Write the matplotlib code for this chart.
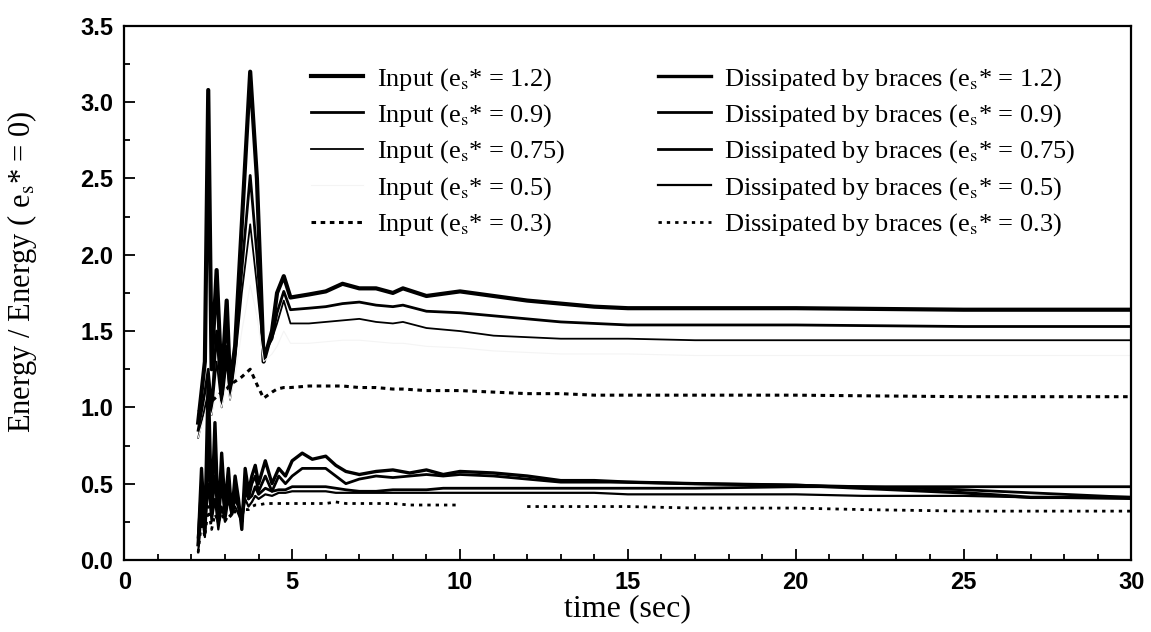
import numpy as np
import matplotlib
matplotlib.use("Agg")
import matplotlib.pyplot as plt
from matplotlib.ticker import MultipleLocator, FormatStrFormatter

nan = np.nan

# time grids (sec)
T_INPUT = [2.0, 2.2, 2.4, 2.5, 2.6, 2.75, 2.9, 3.05, 3.15, 3.3, 3.5, 3.75, 3.95,
           4.15, 4.4, 4.55, 4.75, 4.95, 5.5, 6.0, 6.5, 7.0, 7.5, 8.0, 8.3, 9.0,
           10.0, 11.0, 12.0, 13.0, 14.0, 15.0, 17.0, 20.0, 25.0, 30.0]
T_DISS = [2.2, 2.3, 2.4, 2.5, 2.6, 2.7, 2.8, 2.9, 3.0, 3.1, 3.2, 3.3, 3.4, 3.5,
          3.6, 3.7, 3.8, 3.9, 4.0, 4.2, 4.4, 4.6, 4.8, 5.0, 5.3, 5.6, 6.0, 6.3,
          6.6, 7.0, 7.5, 8.0, 8.5, 9.0, 9.5, 10.0, 11.0, 12.0, 13.0, 14.0, 15.0,
          17.0, 20.0, 22.0, 25.0, 27.0, 30.0]

# input energy ratio
input_12 = [nan, 0.9, 1.3, 3.08, 1.25, 1.9, 1.15, 1.7, 1.15, 1.4, 2.2, 3.2, 2.5,
            1.3, 1.5, 1.75, 1.86, 1.72, 1.74, 1.76, 1.81, 1.78, 1.78, 1.75, 1.78,
            1.73, 1.76, 1.73, 1.70, 1.68, 1.66, 1.65, 1.65, 1.65, 1.64, 1.64]
input_09 = [nan, 0.85, 1.1, 1.25, 1.0, 1.5, 1.05, 1.4, 1.1, 1.35, 1.9, 2.52, 2.0,
            1.35, 1.45, 1.62, 1.76, 1.64, 1.65, 1.66, 1.68, 1.69, 1.67, 1.66, 1.67,
            1.63, 1.62, 1.60, 1.58, 1.56, 1.55, 1.54, 1.54, 1.54, 1.53, 1.53]
input_075 = [nan, 0.8, 1.0, 1.1, 0.95, 1.3, 1.0, 1.3, 1.05, 1.3, 1.75, 2.2, 1.8,
             1.35, 1.45, 1.55, 1.7, 1.55, 1.55, 1.56, 1.57, 1.58, 1.56, 1.55, 1.56,
             1.52, 1.50, 1.47, 1.46, 1.45, 1.45, 1.45, 1.44, 1.44, 1.44, 1.44]
input_05 = [nan, 0.8, 0.95, 1.0, 0.95, 1.1, 1.0, 1.15, 1.05, 1.2, 1.5, 1.8, 1.6,
            1.3, 1.35, 1.4, 1.5, 1.42, 1.42, 1.43, 1.44, 1.44, 1.43, 1.42, 1.42,
            1.40, 1.39, 1.37, 1.36, 1.35, 1.35, 1.35, 1.34, 1.34, 1.34, 1.34]
input_03 = [nan, 0.97, 1.0, 1.02, 1.04, 1.07, 1.1, 1.12, 1.15, 1.17, 1.2, 1.25, 1.15,
            1.06, 1.1, 1.12, 1.13, 1.13, 1.14, 1.14, 1.14, 1.13, 1.13, 1.12, 1.12,
            1.11, 1.11, 1.10, 1.09, 1.09, 1.08, 1.08, 1.08, 1.08, 1.07, 1.07]

# energy dissipated by braces ratio
diss_12 = [0.1, 0.6, 0.2, 1.2, 0.3, 0.9, 0.25, 0.7, 0.35, 0.6, 0.3, 0.55, 0.4, 0.2,
           0.6, 0.45, 0.55, 0.62, 0.5, 0.65, 0.5, 0.6, 0.55, 0.65, 0.7, 0.66, 0.68,
           0.62, 0.58, 0.56, 0.58, 0.59, 0.57, 0.59, 0.56, 0.58, 0.57, 0.55, 0.52,
           0.52, 0.51, 0.50, 0.49, 0.47, 0.44, 0.41, 0.41]
diss_09 = [0.15, 0.5, 0.25, 0.9, 0.35, 0.75, 0.3, 0.55, 0.3, 0.5, 0.35, 0.45, 0.35,
           0.25, 0.5, 0.4, 0.5, 0.55, 0.45, 0.55, 0.45, 0.55, 0.5, 0.55, 0.6, 0.6,
           0.6, 0.55, 0.5, 0.53, 0.55, 0.54, 0.55, 0.56, 0.55, 0.56, 0.55, 0.53,
           0.51, 0.51, 0.51, 0.50, 0.49, 0.48, 0.46, 0.44, 0.41]
diss_075 = [0.1, 0.4, 0.2, 0.7, 0.3, 0.55, 0.25, 0.5, 0.3, 0.45, 0.3, 0.4, 0.35,
            0.25, 0.45, 0.4, 0.42, 0.48, 0.43, 0.47, 0.45, 0.46, 0.46, 0.48, 0.48,
            0.48, 0.48, 0.47, 0.46, 0.45, 0.45, 0.46, 0.46, 0.46, 0.47, 0.47, 0.47,
            0.47, 0.47, 0.47, 0.47, 0.47, 0.48, 0.48, 0.48, 0.48, 0.48]
diss_05 = [0.05, 0.3, 0.15, 0.5, 0.25, 0.4, 0.2, 0.35, 0.25, 0.4, 0.3, 0.35, 0.3,
           0.25, 0.4, 0.35, 0.38, 0.42, 0.4, 0.43, 0.42, 0.44, 0.44, 0.45, 0.45,
           0.45, 0.45, 0.44, 0.44, 0.44, 0.44, 0.44, 0.44, 0.44, 0.44, 0.44, 0.44,
           0.44, 0.44, 0.44, 0.43, 0.43, 0.43, 0.42, 0.42, 0.41, 0.40]
diss_03 = [0.05, 0.25, 0.15, 0.35, 0.2, 0.3, 0.25, 0.3, 0.25, 0.3, 0.28, 0.32, 0.3,
           0.3, 0.33, 0.33, 0.35, 0.36, 0.36, 0.37, 0.37, 0.37, 0.37, 0.37, 0.37,
           0.37, 0.37, 0.38, 0.37, 0.37, 0.37, 0.37, 0.36, 0.36, 0.36, 0.36, nan,
           0.35, 0.35, 0.35, 0.35, 0.34, 0.34, 0.33, 0.32, 0.32, 0.32]

ES_LABELS = ["1.2", "0.9", "0.75", "0.5", "0.3"]

plt.rcParams.update({
    "font.family": "serif",
    "font.serif": ["Liberation Serif", "DejaVu Serif"],
    "mathtext.fontset": "stix",
})

fig = plt.figure(figsize=(11.51, 6.32), dpi=100)
ax = fig.add_axes([0.108, 0.114, 0.875, 0.845])

in_styles = [
    dict(color="black", lw=3.0, ls="-"),
    dict(color="black", lw=2.0, ls="-"),
    dict(color="black", lw=1.3, ls="-"),
    dict(color="#f4f4f4", lw=0.8, ls="-"),
    dict(color="black", lw=2.2, ls=(0, (1.5, 1.5))),
]
diss_styles = [
    dict(color="black", lw=2.4, ls="-"),
    dict(color="black", lw=2.0, ls="-"),
    dict(color="black", lw=2.0, ls="-"),
    dict(color="black", lw=1.6, ls="-"),
    dict(color="black", lw=2.0, ls=(0, (1.2, 1.8))),
]

in_handles = []
for vals, st, es in zip([input_12, input_09, input_075, input_05, input_03], in_styles, ES_LABELS):
    h, = ax.plot(T_INPUT, vals, label=f"Input (e$_\\mathrm{{s}}$* = {es})", **st)
    in_handles.append(h)

diss_handles = []
for vals, st, es in zip([diss_12, diss_09, diss_075, diss_05, diss_03], diss_styles, ES_LABELS):
    h, = ax.plot(T_DISS, vals, label=f"Dissipated by braces (e$_\\mathrm{{s}}$* = {es})", **st)
    diss_handles.append(h)

ax.set_xlim(0, 30)
ax.set_ylim(0, 3.5)
ax.xaxis.set_major_locator(MultipleLocator(5))
ax.xaxis.set_minor_locator(MultipleLocator(1))
ax.yaxis.set_major_locator(MultipleLocator(0.5))
ax.yaxis.set_minor_locator(MultipleLocator(0.25))
ax.yaxis.set_major_formatter(FormatStrFormatter("%.1f"))
ax.tick_params(which="both", direction="in", top=False, right=False, width=1.3)
ax.tick_params(which="major", length=8, pad=8)
ax.tick_params(which="minor", length=4)
for lab in ax.get_xticklabels() + ax.get_yticklabels():
    lab.set_family("Liberation Sans")
    lab.set_fontsize(17)
    lab.set_fontweight("bold")
for sp in ax.spines.values():
    sp.set_linewidth(1.6)

ax.set_xlabel("time (sec)", fontsize=23, labelpad=0)
ax.set_ylabel("Energy / Energy ( e$_\\mathrm{s}$* = 0)", fontsize=22, labelpad=12)
ax.yaxis.set_label_coords(-0.085, 0.54)

leg1 = ax.legend(handles=in_handles, loc="upper left", bbox_to_anchor=(0.185, 0.925),
                 frameon=False, fontsize=19, handlelength=2.0, handletextpad=0.5,
                 labelspacing=0.36, borderaxespad=0, borderpad=0)
ax.add_artist(leg1)
ax.legend(handles=diss_handles, loc="upper left", bbox_to_anchor=(0.53, 0.925),
          frameon=False, fontsize=19, handlelength=2.0, handletextpad=0.5,
          labelspacing=0.36, borderaxespad=0, borderpad=0)

fig.savefig("out.png", dpi=100)
